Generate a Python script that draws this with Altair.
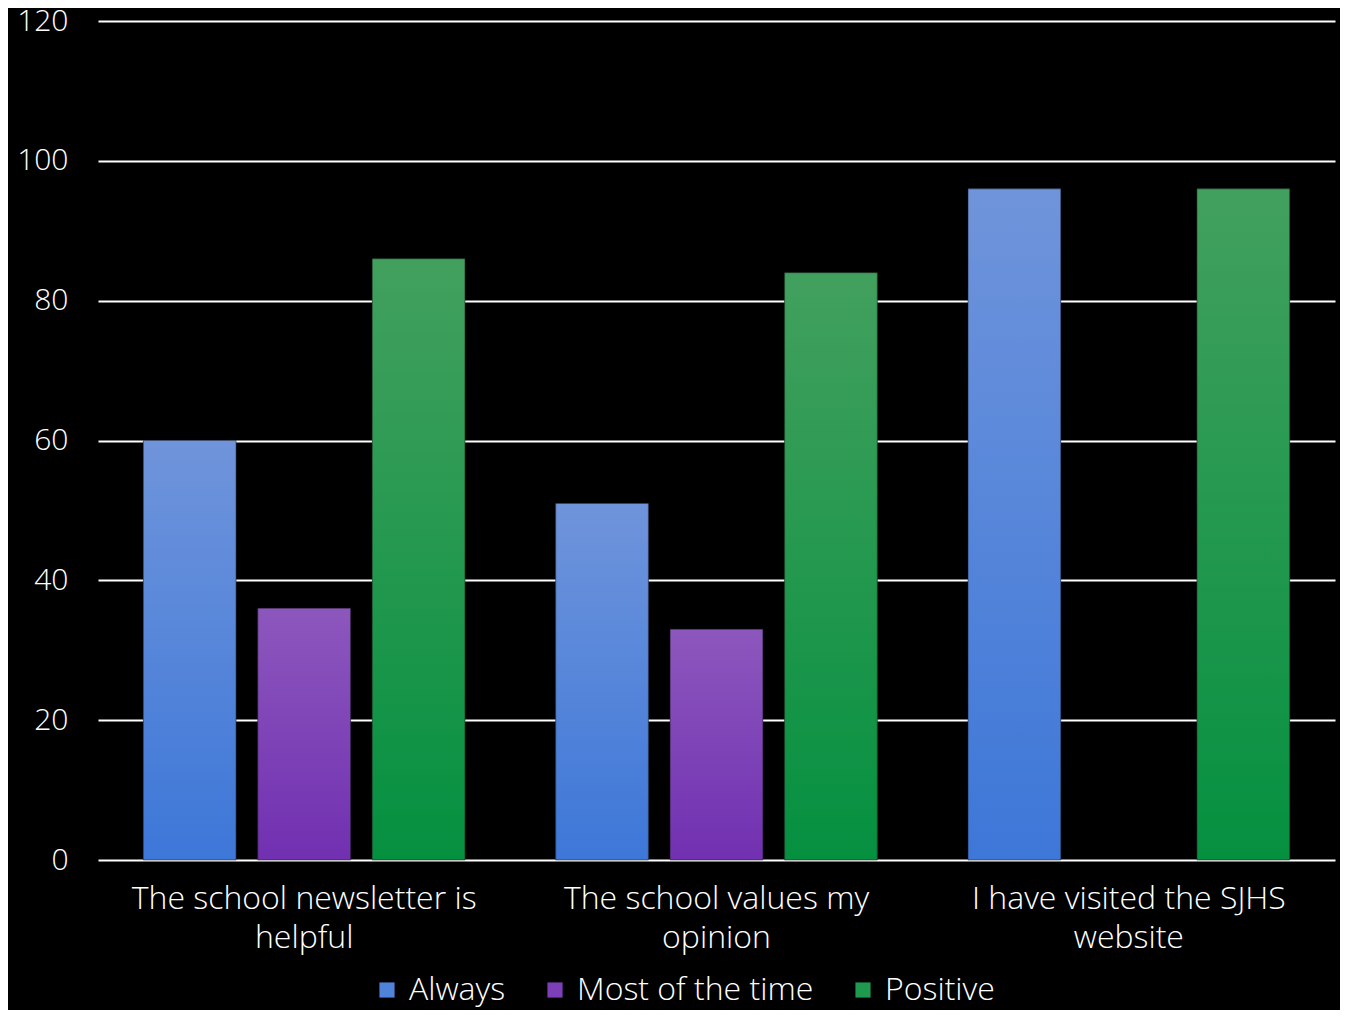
import altair as alt
import pandas as pd

categories = ["The school newsletter is helpful", "The school values my opinion", "I have visited the SJHS website"]
label_lines = [["The school newsletter is", "helpful"], ["The school values my", "opinion"], ["I have visited the SJHS", "website"]]
series = ["Always", "Most of the time", "Positive"]
always = [60, 51, 96]
most = [36, 33, None]
positive = [86, 84, 96]
y_ticks = [0, 20, 40, 60, 80, 100, 120]

grad_top = ["#6f94db", "#8c57bd", "#42a05e"]
grad_bottom = ["#3d77d8", "#7130b1", "#059040"]
legend_colors = ["#4f82d9", "#7d3fb8", "#1f9850"]

rows = []
for name, vals in zip(series, [always, most, positive]):
    for c, v in zip(categories, vals):
        if v is not None:
            rows.append({"category": c, "series": name, "value": v})
df = pd.DataFrame(rows)

FONT = "Open Sans"

label_expr = " : ".join(
    f"datum.value == '{c}' ? {l}" for c, l in zip(categories, label_lines)
) + " : datum.value"

x_enc = alt.X("category:N", sort=categories, title=None,
              scale=alt.Scale(paddingInner=0.22, paddingOuter=0.11),
              axis=alt.Axis(labelExpr=label_expr, labelAngle=0, domain=False, ticks=False,
                            labelPadding=23, labelFontSize=32, labelColor="white",
                            labelFont=FONT, labelFontWeight=300, labelLineHeight=39,
                            grid=False, labelLimit=600))
xo_enc = alt.XOffset("series:N", sort=series,
                     scale=alt.Scale(domain=series, paddingInner=0.19, paddingOuter=0))
y_enc = alt.Y("value:Q", title=None,
              scale=alt.Scale(domain=[0, 120], nice=False),
              axis=alt.Axis(values=y_ticks, domain=False, ticks=False, grid=True,
                            gridColor="white", gridWidth=2, gridOpacity=1,
                            labelPadding=30, labelFontSize=30, labelColor="white",
                            labelFont=FONT, labelFontWeight=300))

base = alt.Chart(df)

legend_layer = base.mark_bar().encode(
    x=x_enc, xOffset=xo_enc, y=y_enc,
    color=alt.Color("series:N", sort=series,
                    scale=alt.Scale(domain=series, range=legend_colors),
                    legend=alt.Legend(title=None, orient="none", legendX=273, legendY=953,
                                      direction="horizontal", symbolType="square",
                                      symbolSize=230, symbolStrokeWidth=0,
                                      labelFontSize=32, labelColor="white", labelFont=FONT,
                                      labelFontWeight=300,
                                      columnPadding=33, labelOffset=6, labelLimit=600)),
)

layers = [legend_layer]
for name, top, bot in zip(series, grad_top, grad_bottom):
    g = alt.Gradient(gradient="linear", x1=0, x2=0, y1=0, y2=1,
                     stops=[alt.GradientStop(color=top, offset=0),
                            alt.GradientStop(color=bot, offset=1)])
    layers.append(
        base.transform_filter(alt.datum.series == name)
        .mark_bar(color=g, stroke="#1a1a1a", strokeWidth=1, strokeOpacity=0.5)
        .encode(x=x_enc, xOffset=xo_enc, y=y_enc)
    )

chart = alt.layer(*layers).properties(
    width=1237, height=839,
    background="black",
    autosize=alt.AutoSizeParams(type="none"),
    padding={"left": 90, "top": 13, "right": 5, "bottom": 150},
).configure_view(stroke=None)

chart.save("out.html", embed_options={"renderer": "svg", "actions": False})
